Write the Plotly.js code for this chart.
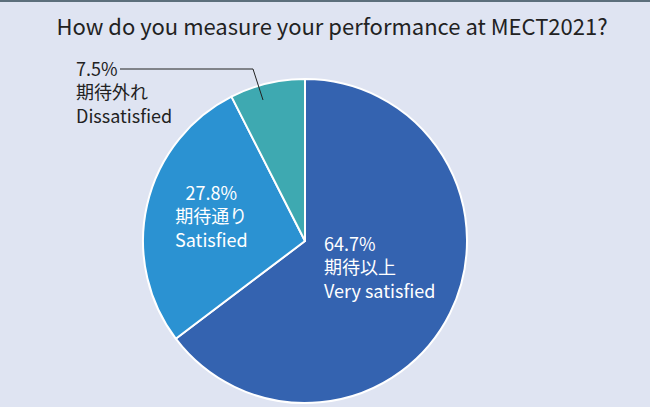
<!DOCTYPE html>
<html><head><meta charset="utf-8">
<script src="https://cdn.plot.ly/plotly-3.0.1.min.js"></script>
<style>html,body{margin:0;padding:0;background:#dfe4f2;}#chart{width:650px;height:407px;}</style>
</head><body><div id="chart"></div>
<script>
const categoriesJa = ["期待以上", "期待通り", "期待外れ"];
const categoriesEn = ["Very satisfied", "Satisfied", "Dissatisfied"];
const values = [64.7, 27.8, 7.5];
const colors = ["#3463b0", "#2b92d2", "#3ea9b1"];
const W = 650, H = 407;
const FONT = "Noto Sans CJK JP, Noto Sans, sans-serif";
function px(x){return x/W;} function py(y){return 1 - y/H;}

const trace = {
  type: "pie",
  values: values,
  labels: categoriesEn,
  sort: false,
  direction: "clockwise",
  rotation: 0,
  textinfo: "none",
  hoverinfo: "none",
  marker: {colors: colors, line: {color: "#ffffff", width: 2}},
  domain: {x: [0, 610/W], y: [py(403), py(79)]}
};

// label placement: [x, anchor, block centre y, colour]
const place = [
  [322, "left", 266, "#ffffff"],
  [212, "center", 215, "#ffffff"],
  [74, "left", 91, "#222222"]
];
const annotations = values.map(function(v, i){
  const p = place[i];
  return {xref: "paper", yref: "paper", x: px(p[0]), y: py(p[2]),
    xanchor: p[1], yanchor: "middle", align: p[1], showarrow: false,
    text: v.toFixed(1) + "%<br>" + categoriesJa[i] + "<br>" + categoriesEn[i],
    font: {family: FONT, size: 18, color: p[3]}};
});

const layout = {
  width: W, height: H,
  margin: {l: 0, r: 0, t: 0, b: 0},
  paper_bgcolor: "#dfe4f2",
  plot_bgcolor: "#dfe4f2",
  showlegend: false,
  font: {family: FONT},
  title: {text: "How do you measure your performance at MECT2021?", x: 332/W, xanchor: "center", y: py(27), yanchor: "middle", font: {family: FONT, size: 22, color: "#222222"}},
  shapes: [
    {type: "rect", xref: "paper", yref: "paper", x0: 0, x1: 1, y0: py(2), y1: 1, fillcolor: "#5c6f7c", line: {width: 0}},
    {type: "path", xref: "paper", yref: "paper", path: "M " + px(120) + " " + py(69) + " L " + px(253) + " " + py(69) + " L " + px(263) + " " + py(100), line: {color: "#222222", width: 1}}
  ],
  annotations: annotations
};
Plotly.newPlot("chart", [trace], layout, {displayModeBar: false, staticPlot: true});
</script></body></html>
